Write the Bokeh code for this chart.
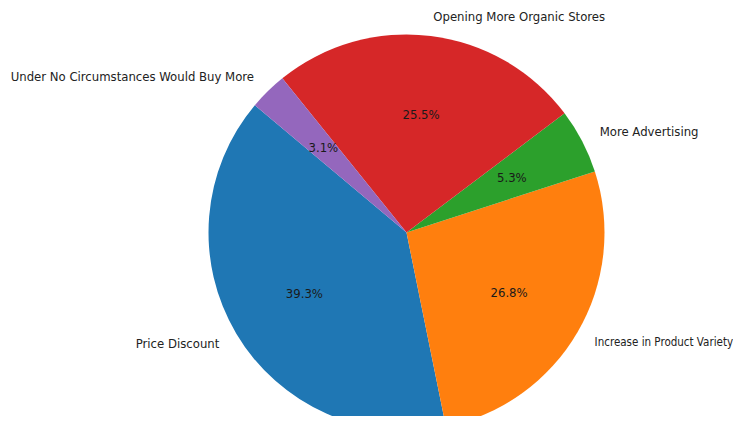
import math
from bokeh.plotting import figure
from bokeh.models import ColumnDataSource
from bokeh.core.properties import value
from bokeh.embed import file_html
from bokeh.resources import INLINE

categories = ["Price Discount", "Increase in Product Variety", "More Advertising",
              "Opening More Organic Stores", "Under No Circumstances Would Buy More"]
shares = [39.3, 26.8, 5.3, 25.5, 3.1]
colors = ["#1f77b4", "#ff7f0e", "#2ca02c", "#d62728", "#9467bd"]
label_sizes = ["13px", "11.5px", "13px", "13px", "13px"]
start_deg = 140.0

total = sum(shares)
starts, ends, mids = [], [], []
a = math.radians(start_deg)
for s in shares:
    span = 2 * math.pi * s / total
    starts.append(a)
    ends.append(a + span)
    mids.append(a + span / 2)
    a += span

W, H = 733, 416
R_PX = 198.0
cx_img, cy_img = 406.0, 232.0
x0 = -cx_img / R_PX
x1 = (W - cx_img) / R_PX
y1 = cy_img / R_PX
y0 = (cy_img - H) / R_PX

p = figure(width=W, height=H, x_range=(x0, x1), y_range=(y0, y1),
           output_backend="svg", toolbar_location=None, min_border=0)
p.axis.visible = False
p.grid.visible = False
p.outline_line_color = None
p.background_fill_color = "white"

src = ColumnDataSource(dict(start=starts, end=ends, color=colors))
p.wedge(x=0, y=0, radius=1.0, start_angle="start", end_angle="end",
        fill_color="color", line_color=None, source=src)

font = value("DejaVu Sans Condensed")
for lab, m, fs in zip(categories, mids, label_sizes):
    x, y = 1.1 * math.cos(m), 1.1 * math.sin(m)
    p.text(x=[x], y=[y], text=[lab], text_font=font, text_font_size=fs,
           text_color="#222222", text_align="left" if x > 0 else "right",
           text_baseline="middle")

for s, m in zip(shares, mids):
    x, y = 0.6 * math.cos(m), 0.6 * math.sin(m)
    p.text(x=[x], y=[y], text=[f"{s:.1f}%"], text_font=font, text_font_size="13px",
           text_color="#1a1a1a", text_align="center", text_baseline="middle")

open("out.html", "w").write(file_html(p, INLINE))
